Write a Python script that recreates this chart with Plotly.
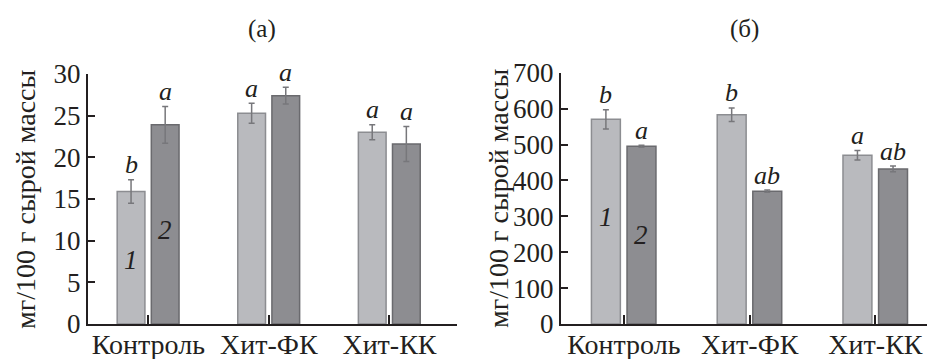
import plotly.graph_objects as go

# Categories and measured values (mean ± error) for the two panels
categories = ["Контроль", "Хит-ФК", "Хит-КК"]

# Panel (а): mg / 100 g fresh weight
a_series1 = [15.9, 25.3, 23.0]
a_err1 = [1.4, 1.2, 0.9]
a_series2 = [23.9, 27.4, 21.6]
a_err2 = [2.2, 1.0, 2.1]
a_letters1 = ["b", "a", "a"]
a_letters2 = ["a", "a", "a"]

# Panel (б): mg / 100 g fresh weight
b_series1 = [570, 583, 470]
b_err1 = [27, 19, 13]
b_series2 = [495, 370, 432]
b_err2 = [3, 3, 8]
b_letters1 = ["b", "b", "a"]
b_letters2 = ["a", "ab", "ab"]

a_ticks = [0, 5, 10, 15, 20, 25, 30]
b_ticks = [0, 100, 200, 300, 400, 500, 600, 700]

y_title = "мг/100 г сырой массы"
panel_titles = ["(а)", "(б)"]
series_names = ["1", "2"]

FONT = "Liberation Serif, Times New Roman, serif"
TEXT = "#231f20"
FILL1, LINE1 = "#b9babe", "#8c8d91"
FILL2, LINE2 = "#8d8d91", "#6a6a6e"
ERR = "#77777b"

BAR_W = 0.23
OFF1, OFF2 = -0.258, 0.025

fig = go.Figure()

panels = [
    dict(xa="x", ya="y", s1=a_series1, e1=a_err1, s2=a_series2, e2=a_err2,
         l1=a_letters1, l2=a_letters2),
    dict(xa="x2", ya="y2", s1=b_series1, e1=b_err1, s2=b_series2, e2=b_err2,
         l1=b_letters1, l2=b_letters2),
]

annotations = []
for p in panels:
    for vals, errs, letters, off, fill, line, name in (
        (p["s1"], p["e1"], p["l1"], OFF1, FILL1, LINE1, series_names[0]),
        (p["s2"], p["e2"], p["l2"], OFF2, FILL2, LINE2, series_names[1]),
    ):
        fig.add_trace(go.Bar(
            x=categories, y=vals, name=name, xaxis=p["xa"], yaxis=p["ya"],
            offset=off, width=BAR_W,
            marker=dict(color=fill, line=dict(color=line, width=1.5)),
            error_y=dict(type="data", array=errs, visible=True,
                         color=ERR, thickness=1.5, width=3),
            showlegend=False,
        ))
        # significance letters above each error bar
        for i, (v, e, t) in enumerate(zip(vals, errs, letters)):
            annotations.append(dict(
                x=i + off + BAR_W / 2, y=v + e, xref=p["xa"], yref=p["ya"],
                text=t, showarrow=False, xanchor="center", yanchor="middle", yshift=15,
                font=dict(family=FONT, size=26, color=TEXT, style="italic"),
            ))

# series numbers inside the first group's bars
for xa, ya, y1, y2 in (("x", "y", 7.7, 11.3), ("x2", "y2", 298, 248)):
    for off, yv, name in ((OFF1, y1, series_names[0]), (OFF2, y2, series_names[1])):
        annotations.append(dict(
            x=0 + off + BAR_W / 2, y=yv, xref=xa, yref=ya, text=name,
            xanchor="center", yanchor="middle", showarrow=False,
            font=dict(family=FONT, size=27, color=TEXT, style="italic"),
        ))

# panel titles and y-axis titles
for xc, t in ((262 / 931, panel_titles[0]), (744 / 931, panel_titles[1])):
    annotations.append(dict(x=xc, y=1 - 29 / 359, xref="paper", yref="paper", text=t,
                            xanchor="center", yanchor="middle", showarrow=False,
                            font=dict(family=FONT, size=25, color=TEXT)))
for xc, yc in ((26 / 931, 1 - 199 / 359), (498 / 931, 1 - 198 / 359)):
    annotations.append(dict(x=xc, y=yc, xref="paper", yref="paper", text=y_title,
                            textangle=-90, xanchor="center", yanchor="middle",
                            showarrow=False, font=dict(family=FONT, size=28, color=TEXT)))

axis_common = dict(showline=True, linecolor="#231f20", linewidth=2, showgrid=False,
                   zeroline=False, automargin=False)
xfont = dict(family=FONT, size=28, color=TEXT)
yfont = dict(family=FONT, size=27, color=TEXT)

fig.update_layout(
    width=931, height=359,
    margin=dict(l=0, r=0, t=0, b=0),
    paper_bgcolor="white", plot_bgcolor="white",
    barmode="overlay",
    annotations=annotations,
    xaxis=dict(domain=[88 / 931, 457 / 931], anchor="y", type="category",
               range=[-0.5, 2.56], ticks="inside", ticklen=9, tickwidth=1.5,
               tickcolor="#231f20", tickfont=xfont, ticklabelstandoff=-6, **axis_common),
    yaxis=dict(domain=[1 - 324 / 359, 1 - 74 / 359], anchor="x", range=[0, 30],
               tickvals=a_ticks, ticks="inside", ticklen=7, tickwidth=1.5,
               tickcolor="#231f20", tickfont=yfont, **axis_common),
    xaxis2=dict(domain=[561 / 931, 927 / 931], anchor="y2", type="category",
                range=[-0.5, 2.41], ticks="inside", ticklen=9, tickwidth=1.5,
                tickcolor="#231f20", tickfont=xfont, ticklabelstandoff=-6, **axis_common),
    yaxis2=dict(domain=[1 - 324 / 359, 1 - 72.7 / 359], anchor="x2", range=[0, 700],
                tickvals=b_ticks, ticks="inside", ticklen=7, tickwidth=1.5,
                tickcolor="#231f20", tickfont=yfont, **axis_common),
)

fig.write_html("out.html")
